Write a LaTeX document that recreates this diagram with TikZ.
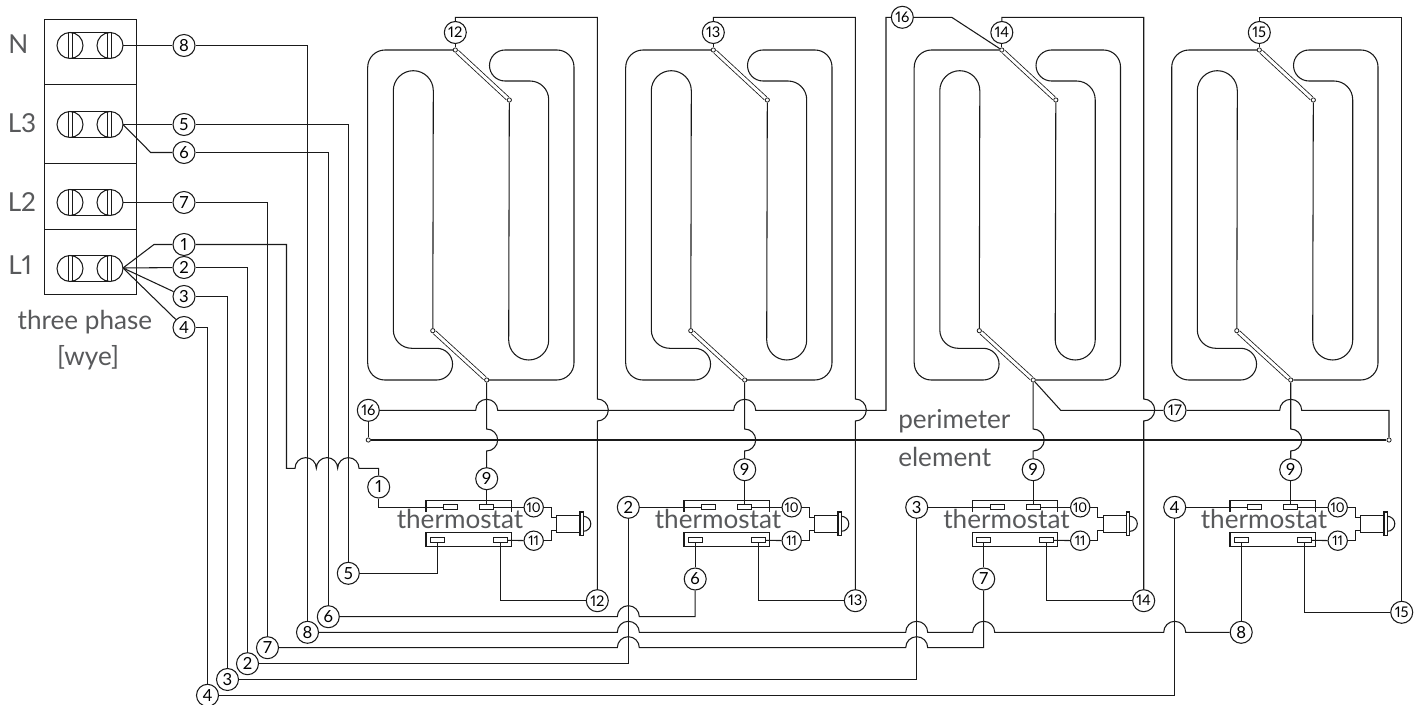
\documentclass[tikz,border=0pt]{standalone}
\usepackage{fontspec}
\usepackage{tikz}
\setmainfont{Lato}[Numbers=Proportional]
\definecolor{labelgrey}{HTML}{58595B}
\definecolor{wirecol}{HTML}{1A1A1A}
\tikzset{
	wire/.style={draw=wirecol,line width=0.8pt},
	numc/.style={circle,draw=wirecol,line width=0.8pt,minimum size=16.5pt,inner sep=0pt,font=\fontsize{12.5}{12.5}\selectfont},
	numb/.style={numc,font=\fontsize{11}{11}\selectfont},
	numd/.style={numc,minimum size=14.5pt,font=\fontsize{10}{10}\selectfont},
	pinbox/.style={rectangle,draw=wirecol,line width=0.7pt,minimum width=10.5pt,minimum height=3.6pt,inner sep=0pt},
	termdot/.style={circle,draw=wirecol,fill=white,line width=0.6pt,minimum size=3.2pt,inner sep=0pt},
	graytext/.style={text=labelgrey,inner sep=0pt,font=\fontsize{19.6}{19.6}\selectfont}
}
\newcommand{\termpair}[2]{
\draw [wire] (#1,#2-13) -- (#1+40,#2-13);
\draw [wire] (#1,#2+13) -- (#1+40,#2+13);
\draw [wire] (#1-1.5,#2-13) -- (#1-1.5,#2+13);
\draw [wire] (#1+2.5,#2-13) -- (#1+2.5,#2+13);
\draw [wire] (#1+37.5,#2-13) -- (#1+37.5,#2+13);
\draw [wire] (#1+41.5,#2-13) -- (#1+41.5,#2+13);
\draw [wire] (#1,#2) circle (13);
\draw [wire] (#1+40,#2) circle (13);
}
\begin{document}
\begin{tikzpicture}[x=0.75pt,y=-0.75pt]
\useasboundingbox (0,0) rectangle (1423,705);
\draw [wire] (44.5,19.5) rectangle (136.5,294.5);
\draw [wire] (44.5,84.5) -- (136.5,84.5);
\draw [wire] (44.5,163.5) -- (136.5,163.5);
\draw [wire] (44.5,229.5) -- (136.5,229.5);
\termpair{70}{45.5}
\termpair{70}{124.5}
\termpair{70}{202.5}
\termpair{70}{268.5}
\coordinate (tN) at (123,45.5);
\coordinate (tLc) at (123,124.5);
\coordinate (tLb) at (123,202.5);
\coordinate (tLa) at (123,268);
\node [graytext,anchor=base west] (lblN) at (8,54) {N};
\node [graytext,anchor=base west] (lblLc) at (7.5,132.7) {L3};
\node [graytext,anchor=base west] (lblLb) at (7.5,211.7) {L2};
\node [graytext,anchor=base west] (lblLa) at (8,275) {L1};
\node [graytext,anchor=base] (lblph) at (85,330) {three phase};
\node [graytext,anchor=base] (lblwye) at (88,366) {[wye]};
\node [graytext,anchor=base west] (lblper) at (898,428.5) {perimeter};
\node [graytext,anchor=base west] (lblel) at (898,466) {element};

\node [numc] (c8a) at (184,45.5) {8};
\node [numc] (c5a) at (184,124.5) {5};
\node [numc] (c6a) at (184,152.5) {6};
\node [numc] (c7a) at (184,202.5) {7};
\node [numc] (c1a) at (184,244.5) {1};
\node [numc] (c2a) at (184,267.5) {2};
\node [numc] (c3a) at (184,296.5) {3};
\node [numc] (c4a) at (184,327.5) {4};
\node [numc] (c8b) at (307.5,632.3) {8};
\node [numc] (c6b) at (328.3,616.7) {6};
\node [numc] (c5b) at (348.3,573.3) {5};
\node [numc] (c7b) at (267.5,647.7) {7};
\node [numc] (c2b) at (247.5,663.7) {2};
\node [numc] (c3b) at (227.5,679.5) {3};
\node [numc] (c4b) at (207.5,695.3) {4};
\node [numc] (c1b) at (378.7,487) {1};
\node [numc] (c2c) at (628.3,507.3) {2};
\node [numc] (c3c) at (916.7,507.3) {3};
\node [numc] (c4c) at (1174.7,507.3) {4};
\node [numc] (c6c) at (695.2,579) {6};
\node [numc] (c7c) at (983.7,579) {7};
\node [numc] (c8c) at (1241.2,632.3) {8};
\node [numb] (c16a) at (368.3,410.3) {16};
\node [numb] (c16b) at (902.3,17.3) {16};
\node [numb] (c17) at (1175,410.3) {17};
\node [numb] (c12b) at (597.3,600.7) {12};
\node [numb] (c13b) at (855.3,600.7) {13};
\node [numb] (c14b) at (1143.7,600.7) {14};
\node [numb] (c15b) at (1401.7,612.3) {15};
\node [termdot] (dotl) at (368.3,440) {};
\node [termdot] (dotr) at (1389,440) {};

\foreach \n/\dx/\lab/\ny in {A/0/12/478.7,B/258/13/469.7,C/546.5/14/469.7,D/804/15/469.7}{
	\begin{scope}[shift={(\dx,0)}]
	\node [numb] (c\lab a) at (455.3,32.5) {\lab};
	\node [termdot] (et\n) at (455.3,50) {};
	\node [termdot] (es\n) at (509.3,100) {};
	\node [termdot] (eb\n) at (432.8,330.7) {};
	\node [termdot] (ej\n) at (486.7,380) {};
	\draw [wire] (c\lab a) -- (et\n);
	\draw [wire] (et\n) -- (385,50) arc (270:180:17.3) -- (367.7,363) arc (180:90:17) -- (436.7,380) arc (90:-90:15.85) -- (411.7,348.3) arc (90:180:18.4) -- (393.3,90.7) arc (180:360:20) -- (eb\n);
	\draw [wire] (ej\n) -- (556.7,380) arc (90:0:17.3) -- (574,67) arc (0:-90:17) -- (505,50) arc (270:90:15.5) -- (530,81) arc (270:360:18.7) -- (548.7,340) arc (0:180:20) -- (es\n);
	\draw [wirecol,line width=0.6pt,double,double distance=2.2pt] (et\n) -- (es\n);
	\draw [wirecol,line width=0.6pt,double,double distance=2.2pt] (eb\n) -- (ej\n);
	\draw [wire] (426,511.7) -- (426,500.3) -- (511.3,500.3) -- (511.3,511.7);
	\draw [wire] (426,532.3) rectangle (511.3,546.7);
	\node [pinbox] (pa\n) at (450.7,507.3) {};
	\node [pinbox] (pb\n) at (486.7,507.3) {};
	\node [pinbox] (pc\n) at (437.2,540.2) {};
	\node [pinbox] (pd\n) at (500.2,540.2) {};
	\node [numc] (n9\n) at (486.7,\ny) {9};
	\node [numd] (n10\n) at (533.7,507.3) {10};
	\node [numd] (n11\n) at (533.7,540.7) {11};
	\draw [wire] (n9\n) -- (pb\n);
	\draw [wire] (n9\n) -- (486.7,451) arc (90:-90:11) -- (ej\n);
	\draw [wire] (pb\n) -- (n10\n);
	\draw [wire] (pd\n) -- (n11\n);
	\coordinate (la\n) at (556.7,517.7);
	\coordinate (lb\n) at (556.7,530.7);
	\draw [wire] (n10\n) -- (551.3,507.3) -- (551.3,517.7) -- (la\n);
	\draw [wire] (n11\n) -- (551.3,540.7) -- (551.3,530.7) -- (lb\n);
	\draw [wire] (556.7,515.3) rectangle (580,532.3);
	\draw [wire] (580,512) rectangle (583.3,535.7);
	\draw [wire] (583.3,516.3) arc (-90:90:7.5);
	\node [graytext,anchor=base] (lbl\n) at (460,528) {thermostat};
	\end{scope}
}

\draw [wire] (tN) -- (c8a);
\draw [wire] (tLc) -- (c5a);
\draw [wire] (tLc) -- (150.7,152.5) -- (c6a);
\draw [wire] (tLb) -- (c7a);
\draw [wire] (tLa) -- (154,244.5) -- (c1a);
\draw [wire] (tLa) -- (c2a);
\draw [wire] (tLa) -- (c3a);
\draw [wire] (tLa) -- (c4a);
\draw [wire] (c8a) -| (c8b);
\draw [wire] (c5a) -| (c5b);
\draw [wire] (c6a) -| (c6b);
\draw [wire] (c7a) -| (c7b);
\draw [wire] (c2a) -| (c2b);
\draw [wire] (c3a) -| (c3b);
\draw [wire] (c4a) -| (c4b);
\draw [wire] (c1a) -- (286.5,244.5) -- (286.5,468.3) -- (295,468.3) arc (180:360:10.67) arc (180:360:10.67) arc (180:360:10.67) -- (378.7,468.3) -- (c1b);

\draw [wire] (c1b) |- (paA);
\draw [wire] (c2c) -- (paB);
\draw [wire] (c3c) -- (paC);
\draw [wire] (c4c) -- (paD);
\draw [wire] (c5b) -| (pcA);
\draw [wire] (c6c) -- (pcB);
\draw [wire] (c7c) -- (pcC);
\draw [wire] (c8c) -- (pcD);
\draw [wire] (pdA) |- (c12b);
\draw [wire] (pdB) |- (c13b);
\draw [wire] (pdC) |- (c14b);
\draw [wire] (pdD) |- (c15b);

\draw [wire] (c6b) -- (617.3,616.7) arc (180:360:11) -- (695.2,616.7) -- (c6c);
\draw [wire] (c8b) -- (617.3,632.3) arc (180:360:11) -- (905.7,632.3) arc (180:360:11) -- (972.7,632.3) arc (180:360:11) -- (1163.7,632.3) arc (180:360:11) -- (c8c);
\draw [wire] (c7b) -- (617.3,647.7) arc (180:360:11) -- (905.7,647.7) arc (180:360:11) -- (983.7,647.7) -- (c7c);
\draw [wire] (c2b) -| (c2c);
\draw [wire] (c3b) -| (c3c);
\draw [wire] (c4b) -| (c4c);

\foreach \lab/\xv/\xt in {12/597.3/455.3,13/855.3/713.3,14/1143.7/1001.8}{
	\draw [wire] (c\lab a) -- (\xt,17.3) -- (\xv,17.3) -- (\xv,399) arc (-90:90:11) -- (c\lab b);
}
\draw [wire] (c15a) -- (1259.3,17.3) -- (1401.7,17.3) -- (c15b);

\draw [wire] (c16a) -- (475.7,410.3) arc (180:360:11) -- (733.7,410.3) arc (180:360:11) -- (886,410.3) -- (886,17.3) -- (c16b);
\draw [wire] (c16b) -- (951.7,17.3) -- (etC);
\draw [wire] (c16a) -- (dotl);
\draw [wire] (ejC) -- (1060.7,410.3) -- (c17);
\draw [wire] (c17) -- (1279.7,410.3) arc (180:360:11) -- (1389,410.3) -- (dotr);
\draw [wirecol,line width=1.5pt] (dotl) -- (dotr);
\end{tikzpicture}
\end{document}
